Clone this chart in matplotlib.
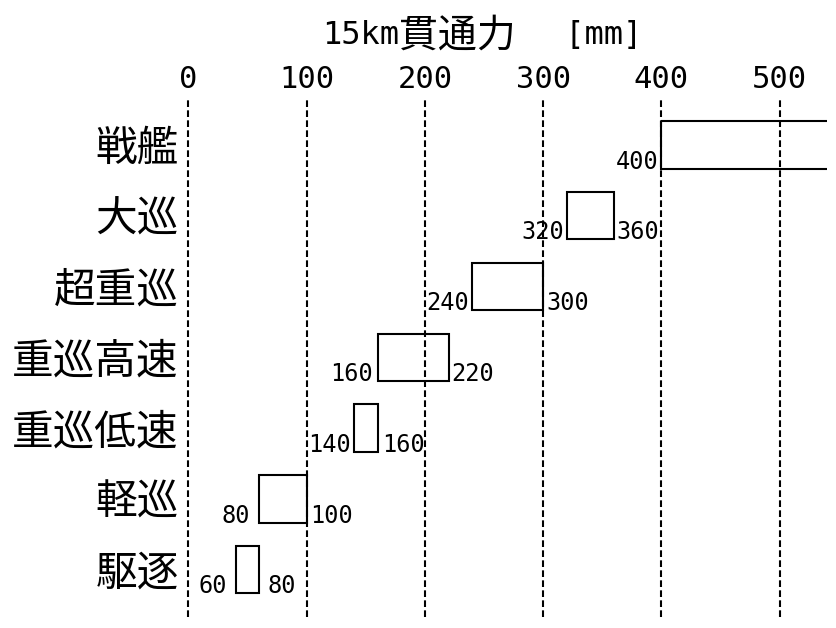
import matplotlib
matplotlib.use("Agg")
import matplotlib.pyplot as plt

# ---- data ----
categories = ['戦艦', '大巡', '超重巡', '重巡高速', '重巡低速', '軽巡', '駆逐']
bar_lo = [400, 320, 240, 160, 140, 60, 40]
bar_hi = [600, 360, 300, 220, 160, 100, 60]
label_lo = ['400', '320', '240', '160', '140', '80', '60']
label_hi = [None, '360', '300', '220', '160', '100', '80']
xticks = [0, 100, 200, 300, 400, 500]

# ---- layout (pixel gaps between bar and its labels) ----
pad_left_px = [3, 2.5, 3, 5, 3, 9, 9]
pad_right_px = [3, 2.5, 3, 3, 4, 3, 8]

MONO = ['DejaVu Sans Mono', 'Noto Sans CJK JP']
CJK = ['Noto Sans CJK JP', 'DejaVu Sans']

W, H = 837, 628
fig = plt.figure(figsize=(W / 100, H / 100), dpi=100)
ax = fig.add_axes([188.5 / W, 1 - 617 / H, (827 - 188.5) / W, (617 - 98) / H])

ypos = list(range(len(categories)))
bar_h = 0.67
ax.barh(ypos, [h - l for l, h in zip(bar_lo, bar_hi)], left=bar_lo, height=bar_h,
        fill=False, edgecolor='black', linewidth=1.5, zorder=3)

ax.set_xlim(0, 540)
ax.set_ylim(6.67, -0.664)

for x in xticks:
    ax.axvline(x, color='black', linewidth=1.5, linestyle=(0, (3.2, 1.6)),
               zorder=1, clip_on=False)

for s in ax.spines.values():
    s.set_visible(False)

ax.xaxis.tick_top()
ax.set_xticks(xticks)
ax.set_xticklabels([str(v) for v in xticks], family=MONO, fontsize=22)
ax.tick_params(axis='x', length=0, pad=3)
ax.set_yticks(ypos)
ax.set_yticklabels(categories, family=CJK, fontsize=30)
ax.tick_params(axis='y', length=0, pad=7)

for i in ypos:
    yb = i + bar_h / 2
    ax.annotate(label_lo[i], xy=(bar_lo[i], yb), xytext=(-pad_left_px[i] * 0.72, 0),
                textcoords='offset points', ha='right', va='baseline',
                family=MONO, fontsize=17, annotation_clip=False)
    if label_hi[i] is not None:
        ax.annotate(label_hi[i], xy=(bar_hi[i], yb), xytext=(pad_right_px[i] * 0.72, 0),
                    textcoords='offset points', ha='left', va='baseline',
                    family=MONO, fontsize=17, annotation_clip=False)

# title made of mono + CJK pieces
t1 = fig.text(322 / W, 1 - 44 / H, '15km', ha='left', va='baseline', family=MONO, fontsize=23)
t2 = ax.annotate('貫通力', xy=(1, 0.5), xycoords=t1, ha='left', va='center',
                 family=CJK, fontsize=28)
t3 = ax.annotate(' [mm]', xy=(1, 0.5), xycoords=t2, xytext=(22, 0),
                 textcoords='offset points', ha='left', va='center',
                 family=MONO, fontsize=23)

fig.savefig('out.png', dpi=100)
